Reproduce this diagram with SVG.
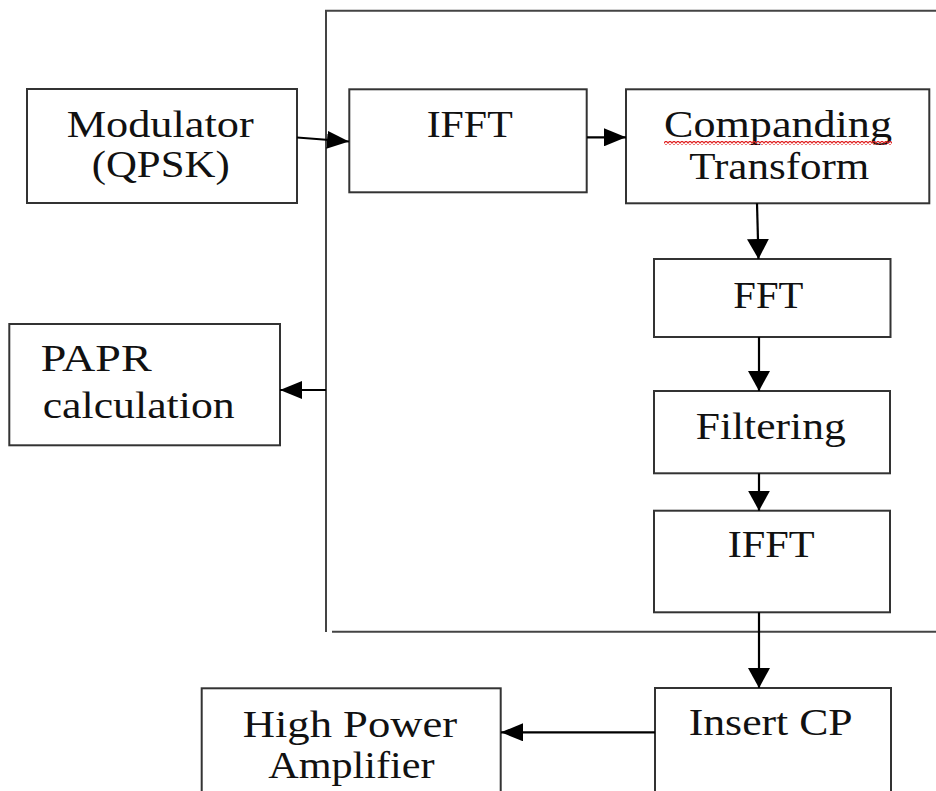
<svg xmlns="http://www.w3.org/2000/svg" width="936" height="791" viewBox="0 0 936 791">
<style>
.box{fill:#fff;stroke:#333;stroke-width:2}
.frame{fill:none;stroke:#444;stroke-width:2}
.t{font-family:"Liberation Serif","Times New Roman",serif;font-size:38px;fill:#111}
.c{fill:none;stroke:#000;stroke-width:2.2}
.ch{marker-end:url(#ah)}
.cv{marker-end:url(#av)}
</style>
<defs>
<marker id="ah" viewBox="0 0 22 18" markerWidth="22" markerHeight="18" markerUnits="userSpaceOnUse" refX="22" refY="9" orient="auto">
<path d="M0,0 L22,9 L0,18 z" fill="#000"/>
</marker>
<marker id="av" viewBox="0 0 20 22" markerWidth="20" markerHeight="22" markerUnits="userSpaceOnUse" refX="20" refY="11" orient="auto">
<path d="M0,0 L20,11 L0,22 z" fill="#000"/>
</marker>
<pattern id="wavy" x="0" y="0" width="4" height="4" patternUnits="userSpaceOnUse">
<path d="M0,3.3 L2,0.7 L4,3.3" fill="none" stroke="#e02020" stroke-width="1.2"/>
</pattern>
</defs>

<g id="frame">
<path class="frame" d="M326,632 V10.7 H936"/>
<path class="frame" d="M332,631.7 H936"/>
</g>

<g id="modulator">
<rect class="box" x="27" y="89" width="270" height="114"/>
<text class="t" x="66.7" y="137" textLength="187" lengthAdjust="spacingAndGlyphs">Modulator</text>
<text class="t" x="91.7" y="177" textLength="138" lengthAdjust="spacingAndGlyphs">(QPSK)</text>
</g>

<g id="ifft1">
<rect class="box" x="349.3" y="89.3" width="237.4" height="103"/>
<text class="t" x="426.7" y="137" textLength="86" lengthAdjust="spacingAndGlyphs">IFFT</text>
</g>

<g id="companding">
<rect class="box" x="626" y="89.3" width="303.3" height="114"/>
<text class="t" x="664" y="137" textLength="228" lengthAdjust="spacingAndGlyphs">Companding</text>
<rect x="664" y="141" width="228" height="4" fill="url(#wavy)"/>
<text class="t" x="689.3" y="179" textLength="180" lengthAdjust="spacingAndGlyphs">Transform</text>
</g>

<g id="fft">
<rect class="box" x="654" y="259" width="236.5" height="78"/>
<text class="t" x="733.3" y="307.7" textLength="70" lengthAdjust="spacingAndGlyphs">FFT</text>
</g>

<g id="filtering">
<rect class="box" x="654" y="391" width="236" height="82.3"/>
<text class="t" x="695.7" y="439" textLength="150" lengthAdjust="spacingAndGlyphs">Filtering</text>
</g>

<g id="ifft2">
<rect class="box" x="654" y="510.7" width="236" height="101.6"/>
<text class="t" x="727.7" y="556.7" textLength="87" lengthAdjust="spacingAndGlyphs">IFFT</text>
</g>

<g id="papr">
<rect class="box" x="9.3" y="324" width="270.7" height="121.3"/>
<text class="t" x="40.7" y="371" textLength="111" lengthAdjust="spacingAndGlyphs">PAPR</text>
<text class="t" x="42.7" y="418.3" textLength="192" lengthAdjust="spacingAndGlyphs">calculation</text>
</g>

<g id="insertcp">
<rect class="box" x="655" y="688" width="236" height="120"/>
<text class="t" x="688.7" y="735" textLength="164" lengthAdjust="spacingAndGlyphs">Insert CP</text>
</g>

<g id="hpa">
<rect class="box" x="201.7" y="688.3" width="299" height="120"/>
<text class="t" x="242.7" y="736.7" textLength="214.5" lengthAdjust="spacingAndGlyphs">High Power</text>
<text class="t" x="268.2" y="777.7" textLength="166.4" lengthAdjust="spacingAndGlyphs">Amplifier</text>
</g>

<g id="connectors">
<path class="c ch" d="M297,137.5 L349,141.5"/>
<path class="c ch" d="M587,137.3 L626,137.3"/>
<path class="c cv" d="M757,203.3 L758.5,259"/>
<path class="c cv" d="M759,337 L759,391"/>
<path class="c cv" d="M759,473.3 L759,510.7"/>
<path class="c cv" d="M759,612.3 L759,688"/>
<path class="c ch" d="M655,732.3 L501,732.3"/>
<path class="c ch" d="M326,390 L280,390"/>
</g>
</svg>
